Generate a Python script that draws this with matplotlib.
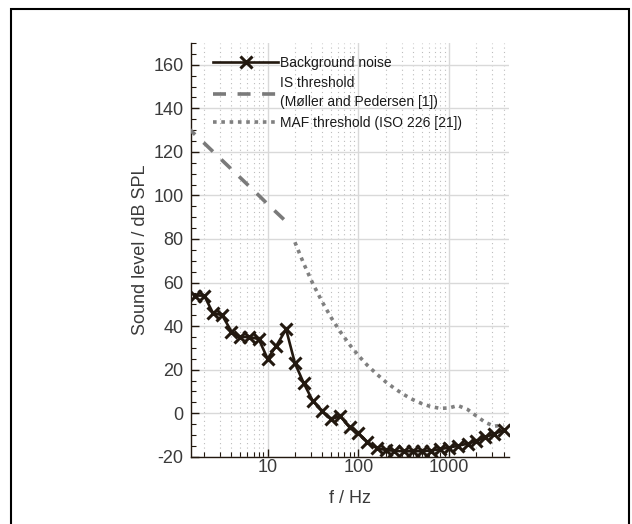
import numpy as np
import matplotlib
matplotlib.use("Agg")
import matplotlib.pyplot as plt
from matplotlib.patches import Rectangle
from matplotlib.ticker import LogLocator, MultipleLocator, FixedLocator, NullFormatter

plt.rcParams['font.family'] = ['Liberation Sans', 'DejaVu Sans']
plt.rcParams['axes.unicode_minus'] = False

# ---- data (third-octave band centres) ----
bg_freq = [1.6, 2, 2.5, 3.15, 4, 5, 6.3, 8, 10, 12.5, 16, 20, 25, 31.5, 40, 50, 63, 80,
           100, 125, 160, 200, 250, 315, 400, 500, 630, 800, 1000, 1250, 1600, 2000,
           2500, 3150, 4000]
bg_level = [54, 54, 46, 45, 37.5, 35, 35, 34, 25, 31, 38.5, 23, 13.8, 5.6, 1.0, -2.8, -1.3,
            -6.5, -9.2, -13.1, -16.1, -16.9, -17.3, -17.5, -17.5, -17.4, -17.2, -16.5,
            -15.8, -15.0, -14.0, -12.8, -11.0, -9.5, -7.8]

is_freq = [1.25, 2, 4, 8, 10, 16]
is_level = [132, 124, 112, 100, 96, 88]

maf_freq = [20, 25, 31.5, 40, 50, 63, 80, 100, 125, 160, 200, 250, 315, 400, 500, 630,
            800, 1000, 1250, 1600, 2000, 2500, 3150, 4000]
maf_level = [78.5, 68.7, 59.5, 51.1, 44.0, 37.5, 31.5, 26.5, 22.1, 17.9, 14.4, 11.4, 8.6,
             6.2, 4.4, 3.0, 2.2, 2.4, 3.5, 1.7, -1.3, -4.2, -6.0, -5.4]

# ---- figure ----
fig = plt.figure(figsize=(6.32, 5.24), dpi=100)
ax = fig.add_axes([0.3017, 0.1284, 0.5033, 0.7896])

ink = "#22180f"
ax.plot(bg_freq, bg_level, color=ink, lw=1.9, marker="x", ms=9, mew=2.2,
        label="Background noise", zorder=4)
ax.plot(is_freq, is_level, color="#7a7a7a", lw=2.6, dashes=(3.6, 3.2),
        label="IS threshold\n(Møller and Pedersen [1])", zorder=3)
ax.plot(maf_freq, maf_level, color="#808080", lw=2.6, dashes=(1.0, 1.3),
        dash_capstyle="butt", label="MAF threshold (ISO 226 [21])", zorder=3)

ax.set_xscale("log")
ax.set_xlim(1.42, 4550)
ax.set_ylim(-20, 170)

ax.xaxis.set_major_locator(FixedLocator([10, 100, 1000]))
ax.set_xticklabels(["10", "100", "1000"])
ax.xaxis.set_minor_locator(LogLocator(base=10, subs=np.arange(2, 10)))
ax.xaxis.set_minor_formatter(NullFormatter())
ax.yaxis.set_major_locator(FixedLocator(np.arange(-20, 161, 20)))
ax.yaxis.set_minor_locator(MultipleLocator(5))

for s in ["top", "right"]:
    ax.spines[s].set_visible(False)
for s in ["left", "bottom"]:
    ax.spines[s].set_color(ink)
    ax.spines[s].set_linewidth(1.0)

ax.tick_params(which="both", direction="in", color=ink, labelcolor="#3a3a3a",
               labelsize=13)
ax.tick_params(which="major", length=6, width=1.0)
ax.tick_params(which="minor", length=3.5, width=0.8)
ax.tick_params(axis="y", pad=5)
ax.tick_params(axis="x", pad=2)

ax.grid(True, which="major", color="#d9d9d9", lw=1.0)
ax.grid(True, which="minor", axis="x", color="#bdbdbd", lw=0.8, ls=(0, (1, 3)))
ax.set_axisbelow(True)

ax.set_xlabel("f / Hz", fontsize=13, color="#3a3a3a", labelpad=10)
ax.set_ylabel("Sound level / dB SPL", fontsize=13, color="#3a3a3a", labelpad=3)

leg = ax.legend(loc="upper left", bbox_to_anchor=(0.07, 0.968), frameon=False,
                fontsize=10, handlelength=4.7, handletextpad=0.15,
                labelspacing=0.45, borderpad=0, borderaxespad=0)
for t in leg.get_texts():
    t.set_color("#1a1a1a")
    t.set_linespacing(1.45)

# outer frame around the figure
fig.patches.append(Rectangle((11 / 632, -0.02), 618 / 632, 1 - 9 / 524 + 0.02,
                             transform=fig.transFigure, fill=False,
                             edgecolor="black", lw=1.5))

plt.savefig("out.png", dpi=100)
